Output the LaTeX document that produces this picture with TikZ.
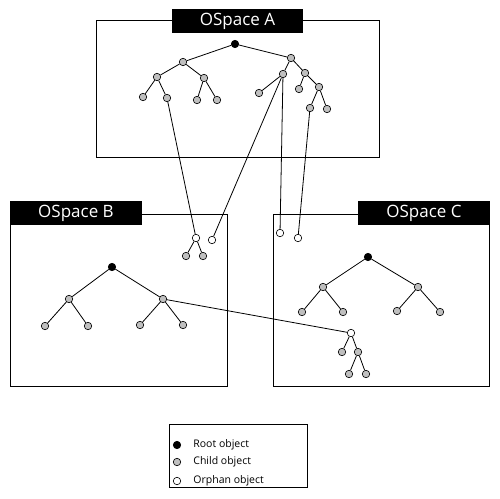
\documentclass[tikz,border=0pt]{standalone}
\usepackage{fontspec}
\setmainfont{Open Sans}
\begin{document}
\begin{tikzpicture}[x=1pt,y=-1pt,line width=0.8pt,
  obj/.style={circle,draw=black,line width=0.6pt,minimum size=7.5pt,inner sep=0pt},
  rootobj/.style={obj,fill=black},
  childobj/.style={obj,fill=gray!50},
  orphobj/.style={obj,fill=white},
  titlebox/.style={fill=black,text=white,font=\fontsize{17}{19}\selectfont,inner sep=0pt,minimum height=24pt},
  edge/.style={draw=black,line width=0.8pt},
  spacebox/.style={draw=black,line width=1pt},
  legtext/.style={anchor=west,font=\fontsize{10.5}{12}\selectfont,inner sep=0pt}]
\useasboundingbox (0,0) rectangle (500,498);
\fill[white] (0,0) rectangle (500,498);
% boxes
\draw[spacebox] (96,20) rectangle (379,157);
\draw[spacebox] (10,214) rectangle (227,386);
\draw[spacebox] (273,214) rectangle (489,386);
\node[titlebox,minimum width=131pt] (tA) at (237.5,21) {OSpace A};
\node[titlebox,minimum width=132pt] (tB) at (76,213) {OSpace B};
\node[titlebox,minimum width=132pt] (tC) at (424,213) {OSpace C};
% tree A
\node[rootobj] (a) at (235,44) {};
\node[childobj] (a1) at (183,62) {};
\node[childobj] (a2) at (291,58) {};
\node[childobj] (a11) at (157,77) {};
\node[childobj] (a12) at (204,78) {};
\node[childobj] (a111) at (143,97) {};
\node[childobj] (a112) at (167,98) {};
\node[childobj] (a121) at (197,100) {};
\node[childobj] (a122) at (217,100) {};
\node[childobj] (a21) at (283,74) {};
\node[childobj] (a22) at (305,73) {};
\node[childobj] (a211) at (259,93) {};
\node[childobj] (a221) at (299,89) {};
\node[childobj] (a222) at (319,87) {};
\node[childobj] (a2221) at (310,108) {};
\node[childobj] (a2222) at (327,109) {};
\draw[edge] (a)--(a1) (a)--(a2) (a1)--(a11) (a1)--(a12) (a11)--(a111) (a11)--(a112)
  (a12)--(a121) (a12)--(a122) (a2)--(a21) (a2)--(a22) (a21)--(a211) (a22)--(a221)
  (a22)--(a222) (a222)--(a2221) (a222)--(a2222);
% orphans in B
\node[orphobj] (ob1) at (196,238) {};
\node[orphobj] (ob2) at (212,240) {};
\node[childobj] (ob11) at (186,256) {};
\node[childobj] (ob12) at (203,256) {};
\draw[edge] (ob1)--(ob11) (ob1)--(ob12);
% tree B
\node[rootobj] (b) at (112,267) {};
\node[childobj] (b1) at (69,299) {};
\node[childobj] (b2) at (163,299) {};
\node[childobj] (b11) at (45,326) {};
\node[childobj] (b12) at (88,326) {};
\node[childobj] (b21) at (140,325) {};
\node[childobj] (b22) at (183,325) {};
\draw[edge] (b)--(b1) (b)--(b2) (b1)--(b11) (b1)--(b12) (b2)--(b21) (b2)--(b22);
% orphans in C
\node[orphobj] (oc1) at (280,233) {};
\node[orphobj] (oc2) at (298,238) {};
% tree C
\node[rootobj] (c) at (368,257) {};
\node[childobj] (c1) at (323,287) {};
\node[childobj] (c2) at (418,287) {};
\node[childobj] (c11) at (302,312) {};
\node[childobj] (c12) at (343,312) {};
\node[childobj] (c21) at (397,311) {};
\node[childobj] (c22) at (440,312) {};
\draw[edge] (c)--(c1) (c)--(c2) (c1)--(c11) (c1)--(c12) (c2)--(c21) (c2)--(c22);
\node[orphobj] (oc3) at (351,333) {};
\node[childobj] (oc31) at (342,352) {};
\node[childobj] (oc32) at (358,352) {};
\node[childobj] (oc321) at (349,374) {};
\node[childobj] (oc322) at (366,374) {};
\draw[edge] (oc3)--(oc31) (oc3)--(oc32) (oc32)--(oc321) (oc32)--(oc322);
% cross links
\draw[edge] (a112)--(ob1);
\draw[edge] (a21)--(ob2);
\draw[edge] (a21)--(oc1);
\draw[edge] (a2221)--(oc2);
\draw[edge] (b2)--(oc3);
% legend
\draw[line width=0.8pt] (169,424) rectangle (307,487);
\node[rootobj] (lr) at (177,445) {};
\node[childobj] (lc) at (177,462) {};
\node[orphobj] (lo) at (177,481) {};
\node[legtext] (tr) at (193,445) {Root object};
\node[legtext] (tc) at (193,462) {Child object};
\node[legtext] (to) at (193,481) {Orphan object};
\end{tikzpicture}
\end{document}
